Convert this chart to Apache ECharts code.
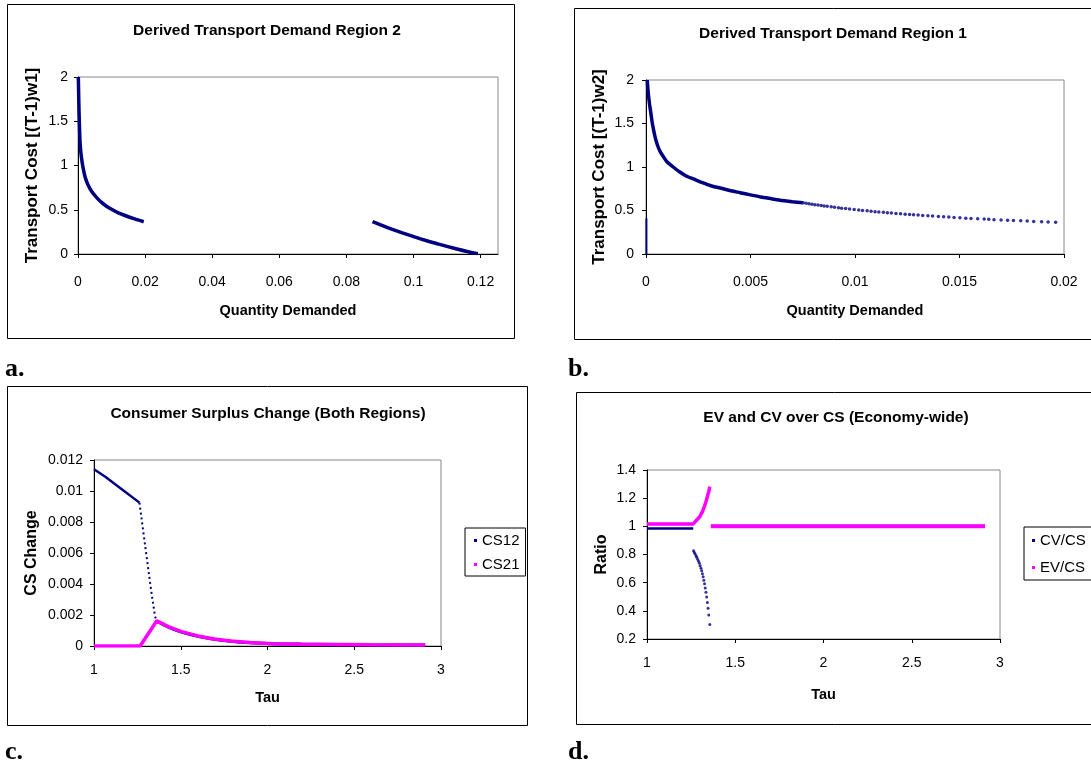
<!DOCTYPE html>
<html><head><meta charset="utf-8">
<script src="https://cdn.jsdelivr.net/npm/echarts@6/dist/echarts.min.js"></script>
<style>html,body{margin:0;padding:0;background:#fff}#c{width:1091px;height:764px}</style>
</head><body><div id="c"></div>
<script>
// ---------- Panel a: Derived Transport Demand Region 2 ----------
const aQtyLow  = [0.0001, 0.0002, 0.0003, 0.00045, 0.0006, 0.0009, 0.0013, 0.0017, 0.0022, 0.0030, 0.0042, 0.0055, 0.0071, 0.0085, 0.0100, 0.0120, 0.0140, 0.0169, 0.0196];
const aCostLow = [2.0, 1.8, 1.62, 1.43, 1.27, 1.13, 1.02, 0.94, 0.86, 0.78, 0.70, 0.64, 0.58, 0.54, 0.505, 0.465, 0.435, 0.396, 0.365];
const aQtyHigh  = [0.0878, 0.0923, 0.0962, 0.1000, 0.1037, 0.1071, 0.1121, 0.1160, 0.1192];
const aCostHigh = [0.365, 0.298, 0.245, 0.197, 0.153, 0.116, 0.065, 0.028, 0.004];
const aXTicks = [0, 0.02, 0.04, 0.06, 0.08, 0.1, 0.12];

// ---------- Panel b: Derived Transport Demand Region 1 ----------
const bQtySpike  = [0.00002, 0.00002];
const bCostSpike = [0, 0.41];
const bQtyDense  = [0.00006, 0.00009, 0.00012, 0.00017, 0.00022, 0.00029, 0.00036, 0.00045, 0.00055, 0.00067, 0.0008, 0.0010, 0.0013, 0.0016, 0.0019, 0.0023, 0.0027, 0.0031, 0.0036, 0.0040, 0.0045, 0.0050, 0.0055, 0.0060, 0.0065, 0.0070, 0.0075];
const bCostDense = [2.0, 1.9, 1.82, 1.72, 1.64, 1.52, 1.43, 1.33, 1.25, 1.18, 1.13, 1.06, 1.0, 0.945, 0.9, 0.86, 0.82, 0.785, 0.755, 0.73, 0.705, 0.68, 0.655, 0.635, 0.615, 0.60, 0.588];
const bQtyDots = [0.00752,0.00766,0.0078,0.00794,0.00808,0.00823,0.00838,0.00852,0.00867,0.00886,0.00902,0.00921,0.00936,0.00955,0.00974,0.00996,0.01018,0.01036,0.01058,0.01077,0.01096,0.01114,0.01136,0.01155,0.01174,0.01196,0.01218,0.0124,0.01261,0.0128,0.01302,0.01324,0.01349,0.01371,0.01399,0.01424,0.01449,0.01474,0.01502,0.0153,0.01555,0.01587,0.01618,0.0164,0.01665,0.01699,0.0173,0.01758,0.01793,0.01824,0.01855,0.01893,0.01924,0.0196];
const bCostDots = [0.588,0.583,0.577,0.572,0.567,0.562,0.557,0.552,0.548,0.542,0.537,0.531,0.527,0.522,0.517,0.511,0.506,0.501,0.496,0.491,0.487,0.483,0.479,0.475,0.471,0.466,0.462,0.458,0.454,0.451,0.447,0.443,0.439,0.436,0.431,0.427,0.424,0.420,0.416,0.412,0.409,0.405,0.401,0.398,0.395,0.391,0.388,0.385,0.381,0.378,0.375,0.371,0.368,0.364];

// ---------- Panel c: Consumer Surplus Change (Both Regions) ----------
const cTau12Solid = [1.0, 1.067, 1.162, 1.262];
const cVal12Solid = [0.0114, 0.0109, 0.0101, 0.00925];
const cTau12Drop  = [1.262, 1.272, 1.285, 1.298, 1.310, 1.323, 1.337, 1.352, 1.362];
const cVal12Drop  = [0.00925, 0.0084, 0.0073, 0.0062, 0.0052, 0.0041, 0.0030, 0.0019, 0.00163];
const cTau21 = [1.0, 1.266, 1.362, 1.428, 1.504, 1.598, 1.692, 1.787, 1.900, 2.032, 2.200, 2.390, 2.600, 2.909];
const cVal21 = [0, 0, 0.00163, 0.00125, 0.00093, 0.00065, 0.00045, 0.00032, 0.00022, 0.00015, 0.00012, 0.0001, 0.00008, 0.00006];
const cTau12Tail = [1.362, 1.428, 1.504, 1.598, 1.692, 1.787, 1.900, 2.032, 2.200, 2.390, 2.600, 2.909];
const cVal12Tail = [0.00160, 0.00122, 0.00090, 0.00063, 0.00044, 0.00031, 0.00021, 0.00015, 0.00012, 0.0001, 0.00008, 0.00006];

// ---------- Panel d: EV and CV over CS (Economy-wide) ----------
const dTauCvFlat = [1.0, 1.262];
const dValCvFlat = [0.985, 0.985];
const dTauCvDrop = [1.264,1.268,1.273,1.278,1.282,1.287,1.292,1.297,1.301,1.306,1.310,1.314,1.318,1.322,1.326,1.330,1.334,1.338,1.342,1.346,1.350,1.356];
const dValCvDrop = [0.826,0.815,0.804,0.792,0.780,0.766,0.752,0.737,0.720,0.702,0.684,0.664,0.642,0.618,0.592,0.563,0.532,0.498,0.460,0.418,0.370,0.303];
const dTauCvTail = [1.362, 2.915];
const dValCvTail = [1.0, 1.0];
const dTauEvRise = [1.0, 1.262, 1.264, 1.282, 1.301, 1.314, 1.325, 1.334, 1.343, 1.351, 1.356];
const dValEvRise = [1.017, 1.017, 1.026, 1.045, 1.073, 1.104, 1.140, 1.175, 1.215, 1.253, 1.282];
const dTauEvTail = [1.362, 2.915];
const dValEvTail = [1.0, 1.0];

const NAVY = '#000080', MAG = '#ff00ff';
const FONT = '"Liberation Sans", Arial, sans-serif';
const pairs = (xs, ys) => xs.map((x, i) => [x, ys[i]]);

function axis(o) {
  const ax = {
    type: 'value', gridIndex: o.grid, min: o.min, max: o.max, interval: o.interval,
    name: o.name, nameLocation: 'middle', nameGap: o.nameGap,
    nameTextStyle: {fontFamily: FONT, fontWeight: 'bold', fontSize: o.nameSize, color: '#000'},
    axisLine: {show: true, onZero: false, lineStyle: {color: '#000', width: 1}},
    axisTick: {show: true, inside: false, length: 4, lineStyle: {color: '#000', width: 1}},
    axisLabel: {show: true, margin: o.labelMargin, fontFamily: FONT, fontSize: 14, color: '#000'},
    splitLine: {show: false}
  };
  if (o.ticks) { ax.axisTick.customValues = o.ticks; ax.axisLabel.customValues = o.ticks; }
  return ax;
}
function grid(l, t, r, b) {
  return {left: l, top: t, width: r - l, height: b - t, show: true, borderColor: '#888', borderWidth: 1, backgroundColor: 'transparent'};
}
function line(name, xi, data, color, width, extra) {
  return Object.assign({type: 'line', name, xAxisIndex: xi, yAxisIndex: xi, data, symbol: 'none',
    lineStyle: {color, width}, itemStyle: {color}, animation: false, emphasis: {disabled: true}}, extra || {});
}
function dots(name, xi, data, color, size) {
  return {type: 'scatter', name, xAxisIndex: xi, yAxisIndex: xi, data, symbol: 'circle', symbolSize: size,
    itemStyle: {color}, animation: false, emphasis: {disabled: true}};
}
function title(text, cx, top) {
  return {text, left: cx, top, textAlign: 'center', padding: 0,
    textStyle: {fontFamily: FONT, fontWeight: 'bold', fontSize: 15.5, color: '#000'}};
}
function frame(x, y, w, h) {
  return {type: 'rect', shape: {x: x + 0.5, y: y + 0.5, width: w, height: h}, style: {fill: 'none', stroke: '#000', lineWidth: 1}, silent: true};
}
function letter(t, x, y) {
  return {type: 'text', x, y, style: {text: t, fontFamily: '"Liberation Serif", "Times New Roman", serif', fontWeight: 'bold', fontSize: 26, fill: '#000', verticalAlign: 'top'}, silent: true};
}

const chart = echarts.init(document.getElementById('c'), null, {renderer: 'canvas'});
chart.setOption({
  animation: false,
  backgroundColor: '#fff',
  textStyle: {fontFamily: FONT},
  title: [
    title('Derived Transport Demand Region 2', 267, 23),
    title('Derived Transport Demand Region 1', 833, 25.5),
    title('Consumer Surplus Change (Both Regions)', 268, 406),
    title('EV and CV over CS (Economy-wide)', 836, 409.5)
  ],
  grid: [grid(78, 77, 498, 254), grid(646, 80, 1064, 254), grid(94, 460, 441, 646), grid(647, 470, 1000, 639)],
  xAxis: [
    axis({grid: 0, min: 0, max: 0.1252, interval: 0.02, ticks: aXTicks, name: 'Quantity Demanded', nameGap: 49, nameSize: 14.5, labelMargin: 21}),
    axis({grid: 1, min: 0, max: 0.02, interval: 0.005, name: 'Quantity Demanded', nameGap: 49, nameSize: 14.5, labelMargin: 21}),
    axis({grid: 2, min: 1, max: 3, interval: 0.5, name: 'Tau', nameGap: 44, nameSize: 14.5, labelMargin: 17}),
    axis({grid: 3, min: 1, max: 3, interval: 0.5, name: 'Tau', nameGap: 48, nameSize: 14.5, labelMargin: 17})
  ],
  yAxis: [
    axis({grid: 0, min: 0, max: 2, interval: 0.5, name: 'Transport Cost [(T-1)w1]', nameGap: 37, nameSize: 17, labelMargin: 10}),
    axis({grid: 1, min: 0, max: 2, interval: 0.5, name: 'Transport Cost [(T-1)w2]', nameGap: 38, nameSize: 17, labelMargin: 12}),
    axis({grid: 2, min: 0, max: 0.012, interval: 0.002, name: 'CS Change', nameGap: 54, nameSize: 16, labelMargin: 11}),
    axis({grid: 3, min: 0.2, max: 1.4, interval: 0.2, name: 'Ratio', nameGap: 37, nameSize: 16, labelMargin: 11})
  ],
  legend: [
    {data: [{name: 'CS12', icon: 'rect'}, {name: 'CS21', icon: 'rect'}], orient: 'vertical', left: 465, top: 528,
     itemWidth: 3, itemHeight: 3, itemGap: 9, padding: [5, 6, 4, 9], borderColor: '#000', borderWidth: 1,
     selectedMode: false, textStyle: {fontFamily: FONT, fontSize: 15, color: '#000'}},
    {data: [{name: 'CV/CS', icon: 'rect'}, {name: 'EV/CS', icon: 'rect'}], orient: 'vertical', left: 1024, top: 527,
     itemWidth: 3, itemHeight: 3, itemGap: 12, padding: [6, 8, 5, 8], borderColor: '#000', borderWidth: 1,
     selectedMode: false, textStyle: {fontFamily: FONT, fontSize: 15, color: '#000'}}
  ],
  graphic: [
    frame(7, 4, 507, 334),
    frame(574, 8, 600, 331),
    frame(7, 386, 520, 339),
    frame(576, 392, 600, 332),
    letter('a.', 5, 356),
    letter('b.', 568, 356),
    letter('c.', 5, 739),
    letter('d.', 568, 739)
  ],
  series: [
    line('a1', 0, pairs(aQtyLow, aCostLow), NAVY, 3.5, {smooth: 0.2}),
    line('a2', 0, pairs(aQtyHigh, aCostHigh), NAVY, 3.5, {smooth: 0.5}),
    line('b0', 1, pairs(bQtySpike, bCostSpike), NAVY, 2),
    line('b1', 1, pairs(bQtyDense, bCostDense), NAVY, 3.5, {smooth: 0.2}),
    dots('b2', 1, pairs(bQtyDots, bCostDots), NAVY, 3.5),
    line('CS12', 2, pairs(cTau12Solid, cVal12Solid), NAVY, 2.5),
    line('CS12', 2, pairs(cTau12Drop, cVal12Drop), NAVY, 2, {lineStyle: {color: NAVY, width: 2, type: [2, 3]}}),
    line('CS12', 2, pairs(cTau12Tail, cVal12Tail), NAVY, 3, {smooth: 0.3}),
    line('CS21', 2, pairs(cTau21, cVal21), MAG, 3.5),
    line('CV/CS', 3, pairs(dTauCvFlat, dValCvFlat), NAVY, 2.5),
    dots('CV/CS', 3, pairs(dTauCvDrop, dValCvDrop), NAVY, 3),
    line('CV/CS', 3, pairs(dTauCvTail, dValCvTail), NAVY, 3),
    line('EV/CS', 3, pairs(dTauEvRise, dValEvRise), MAG, 3.5),
    line('EV/CS', 3, pairs(dTauEvTail, dValEvTail), MAG, 4)
  ]
});
</script></body></html>
